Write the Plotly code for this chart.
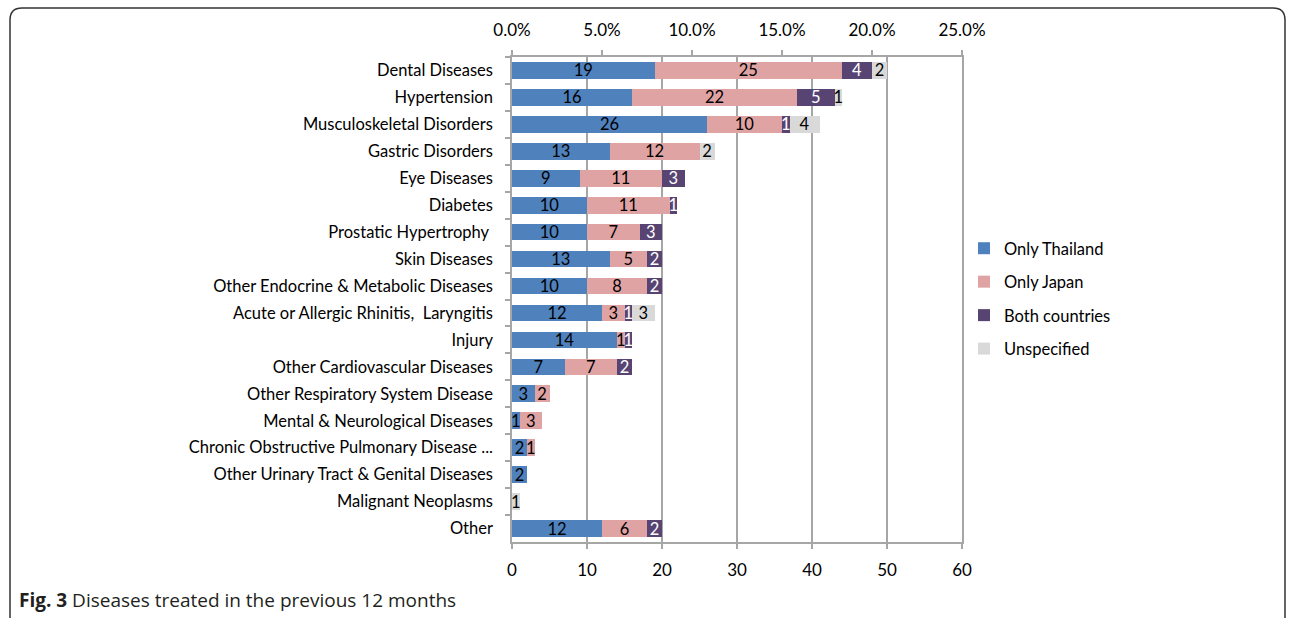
import plotly.graph_objects as go

categories = [
    "Dental Diseases", "Hypertension", "Musculoskeletal Disorders", "Gastric Disorders",
    "Eye Diseases", "Diabetes", "Prostatic Hypertrophy ", "Skin Diseases",
    "Other Endocrine & Metabolic Diseases", "Acute or Allergic Rhinitis,  Laryngitis",
    "Injury", "Other Cardiovascular Diseases", "Other Respiratory System Disease",
    "Mental & Neurological Diseases", "Chronic Obstructive Pulmonary Disease ...",
    "Other Urinary Tract & Genital Diseases", "Malignant Neoplasms", "Other",
]
only_thailand = [19, 16, 26, 13, 9, 10, 10, 13, 10, 12, 14, 7, 3, 1, 2, 2, 0, 12]
only_japan = [25, 22, 10, 12, 11, 11, 7, 5, 8, 3, 1, 7, 2, 3, 1, 0, 0, 6]
both_countries = [4, 5, 1, 0, 3, 1, 3, 2, 2, 1, 1, 2, 0, 0, 0, 0, 0, 2]
unspecified = [2, 1, 4, 2, 0, 0, 0, 0, 0, 3, 0, 0, 0, 0, 0, 0, 1, 0]
n_respondents = 240
count_ticks = [0, 10, 20, 30, 40, 50, 60]
pct_ticks = [0, 0.05, 0.10, 0.15, 0.20, 0.25]
caption_bold = "Fig. 3"
caption_text = " Diseases treated in the previous 12 months"

series = [
    ("Only Thailand", only_thailand, "#4F81BD", "black"),
    ("Only Japan", only_japan, "#DFA3A3", "black"),
    ("Both countries", both_countries, "#574473", "white"),
    ("Unspecified", unspecified, "#D9D9D9", "black"),
]

FONT = "Lato"
FS = 16.5
fig = go.Figure()
for i, (name, vals, color, tcolor) in enumerate(series):
    fig.add_trace(go.Bar(
        y=categories, x=vals, name=name, orientation="h",
        marker=dict(color=color, line=dict(width=0)),
        text=[str(v) if v else "" for v in vals],
        textposition="inside", insidetextanchor="middle", textangle=0,
        textfont=dict(color=tcolor, size=FS, family=FONT),
        legendgroup=name, hoverinfo="skip",
    ))

totals = [a + b + c + d for a, b, c, d in zip(only_thailand, only_japan, both_countries, unspecified)]
fig.add_trace(go.Scatter(
    y=categories, x=[t / n_respondents for t in totals], xaxis="x2", mode="markers",
    marker=dict(opacity=0, size=1), showlegend=False, hoverinfo="skip",
))

L, R, T, B = 512, 962, 57, 542
W, H = 1292, 618
pw, ph = R - L, B - T

def px(x):
    return (x - L) / pw

def py(y):
    return (B - y) / ph

# rounded frame
x0, x1, y0, yb, r = 10, 1285, 8, 640, 12
path = (f"M {px(x0)},{py(yb)} L {px(x0)},{py(y0 + r)} Q {px(x0)},{py(y0)} {px(x0 + r)},{py(y0)} "
        f"L {px(x1 - r)},{py(y0)} Q {px(x1)},{py(y0)} {px(x1)},{py(y0 + r)} L {px(x1)},{py(yb)}")

n = len(categories)
fig.update_layout(
    width=W, height=H,
    margin=dict(l=L, r=W - R, t=T, b=H - B, autoexpand=False),
    barmode="stack", bargap=0.38,
    plot_bgcolor="white", paper_bgcolor="white",
    font=dict(family=FONT, size=FS, color="black"),
    uniformtext=dict(minsize=FS, mode="show"),
    xaxis=dict(
        range=[0, 60], tickvals=count_ticks, showgrid=True, gridcolor="#A6A6A6", gridwidth=1.5,
        showline=True, linecolor="#A6A6A6", linewidth=1.5, ticks="outside", ticklen=5,
        tickcolor="#A6A6A6", tickwidth=1.5, zeroline=False, ticklabelstandoff=7,
        tickfont=dict(size=17, family=FONT),
    ),
    xaxis2=dict(
        overlaying="x", side="top", range=[0, 60 / n_respondents], tickvals=pct_ticks,
        tickformat=".1%", showgrid=False, showline=True, linecolor="#A6A6A6", linewidth=1.5,
        ticks="outside", ticklen=5, tickcolor="#A6A6A6", tickwidth=1.5, zeroline=False,
        ticklabelstandoff=7, tickfont=dict(size=17, family=FONT),
    ),
    yaxis=dict(
        categoryorder="array", categoryarray=categories, range=[n - 0.5, -0.5],
        showline=True, linecolor="#A6A6A6", linewidth=1.5, mirror=True,
        ticks="outside", ticklen=5, tickcolor="#A6A6A6", tickwidth=1.5, tickson="boundaries",
        showgrid=False, ticklabelstandoff=14, tickfont=dict(size=FS, family=FONT),
    ),
    legend=dict(
        x=px(964), y=py(231), xanchor="left", yanchor="top", traceorder="grouped",
        tracegroupgap=9, font=dict(size=FS, family=FONT), itemwidth=30,
        bgcolor="rgba(0,0,0,0)",
    ),
    shapes=[dict(type="path", path=path, xref="paper", yref="paper",
                 line=dict(color="#333333", width=1.5))],
    annotations=[dict(
        x=px(17), y=py(600), xref="paper", yref="paper", xanchor="left", yanchor="middle",
        showarrow=False, text=f"<b>{caption_bold}</b>{caption_text}",
        font=dict(family="Open Sans", size=19, color="#231F20"),
    )],
)

fig.write_html("out.html", config={"displayModeBar": False},
               post_script="document.body.style.margin='0px';")
